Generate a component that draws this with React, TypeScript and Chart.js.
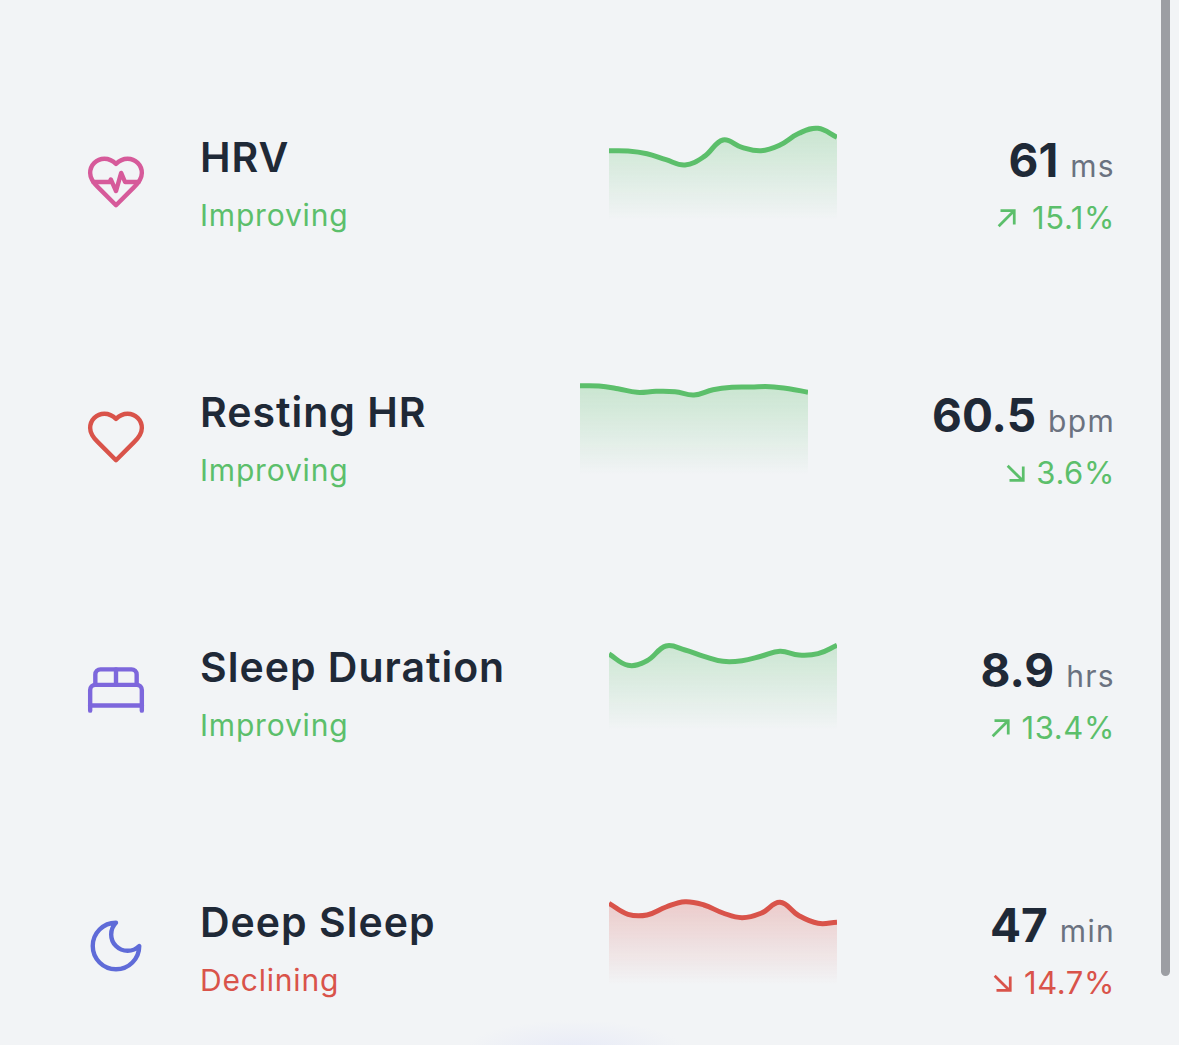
import { useEffect, useRef } from "react";
import { Chart, registerables } from "chart.js";

Chart.register(...registerables);

const hrvValues = [69.3, 69, 66.3, 60.3, 55, 63.3, 80, 72.7, 69.3, 75, 86.7, 91.7, 82.7];
const restingValues = [89.3, 89, 86.3, 82.7, 83.7, 83.3, 80, 85.3, 87.7, 88, 88.3, 86.3, 82.7];
const sleepValues = [76, 64.7, 69.3, 84, 80, 73.7, 68.7, 69.3, 73.7, 78.7, 75, 76.3, 84.7];
const deepValues = [81.7, 70.7, 70, 78, 83.3, 80, 72, 67.3, 71.7, 82.7, 69.3, 61.7, 62.7];

const GREEN = "#5cbf6b";
const RED = "#d9534a";

function Sparkline({ values, color, left, top }: { values: number[]; color: string; left: number; top: number }) {
  const canvasRef = useRef<HTMLCanvasElement | null>(null);

  useEffect(() => {
    if (!canvasRef.current) return;
    const chart = new Chart(canvasRef.current, {
      type: "line",
      data: {
        labels: values.map((_, i) => String(i)),
        datasets: [
          {
            data: values,
            borderColor: color,
            borderWidth: 5,
            pointRadius: 0,
            tension: 0.4,
            clip: 0,
            fill: "start",
            backgroundColor: (ctx: any) => {
              const area = ctx.chart.chartArea;
              if (!area) return "transparent";
              const g = ctx.chart.ctx.createLinearGradient(0, area.top, 0, area.bottom);
              g.addColorStop(0, color + "4d");
              g.addColorStop(1, color + "00");
              return g;
            },
          },
        ],
      },
      options: {
        responsive: false,
        animation: false,
        layout: { padding: 0 },
        plugins: { legend: { display: false }, tooltip: { enabled: false } },
        scales: {
          x: { display: false, offset: false },
          y: { display: false, min: 0, max: 100 },
        },
      },
    });
    return () => chart.destroy();
  }, []);

  return <canvas ref={canvasRef} width={228} height={100} style={{ position: "absolute", left, top, width: 228, height: 100 }} />;
}

function Icon({ cy, color, paths }: { cy: number; color: string; paths: string[] }) {
  return (
    <svg
      viewBox="0 0 24 24"
      style={{ position: "absolute", left: 85, top: cy - 31, width: 62, height: 62 }}
      fill="none"
      stroke={color}
      strokeWidth={1.7}
      strokeLinecap="round"
      strokeLinejoin="round"
    >
      {paths.map((d) => (
        <path key={d} d={d} />
      ))}
    </svg>
  );
}

function Arrow({ up, color, right, top }: { up: boolean; color: string; right: number; top: number }) {
  return (
    <svg
      viewBox="0 0 24 24"
      style={{ position: "absolute", left: right - 22, top, width: 22, height: 22 }}
      fill="none"
      stroke={color}
      strokeWidth={3}
    >
      {up ? <path d="M4 21 20 5M6 4h15v15" /> : <path d="M4 4l16 16M6 20h15V5" />}
    </svg>
  );
}

const HEART = "M19 14c1.49-1.46 3-3.21 3-5.5A5.5 5.5 0 0 0 16.5 3c-1.76 0-3 .5-4.5 2-1.5-1.5-2.74-2-4.5-2A5.5 5.5 0 0 0 2 8.5c0 2.3 1.5 4.05 3 5.5l7 7Z";

const rows = [
  { name: "HRV", status: "Improving", value: "61", unit: "ms", pct: "15.1%", up: true, tone: GREEN, values: hrvValues, left: 609, chartTop: 120, nameTop: 132, arrowRight: 1017, iconCy: 182, iconColor: "#d65a9a", icon: [HEART, "M3.22 12H9.5l.5-1 2 4.5 2-7 1.5 3.5h5.27"] },
  { name: "Resting HR", status: "Improving", value: "60.5", unit: "bpm", pct: "3.6%", up: false, tone: GREEN, values: restingValues, left: 580, chartTop: 375, nameTop: 387, arrowRight: 1026, iconCy: 437, iconColor: "#d9534a", icon: [HEART] },
  { name: "Sleep Duration", status: "Improving", value: "8.9", unit: "hrs", pct: "13.4%", up: true, tone: GREEN, values: sleepValues, left: 609, chartTop: 630, nameTop: 642, arrowRight: 1011, iconCy: 690, iconColor: "#7d67dc", icon: ["M2 20v-8a2 2 0 0 1 2-2h16a2 2 0 0 1 2 2v8", "M4 10V6a2 2 0 0 1 2-2h12a2 2 0 0 1 2 2v4", "M12 4v6", "M2 18h20"] },
  { name: "Deep Sleep", status: "Declining", value: "47", unit: "min", pct: "14.7%", up: false, tone: RED, values: deepValues, left: 609, chartTop: 885, nameTop: 897, arrowRight: 1013, iconCy: 946, iconColor: "#5f6bd8", icon: ["M12 3a6 6 0 0 0 9 9 9 9 0 1 1-9-9Z"] },
];

const text = (top: number, size: number, weight: number, color: string): React.CSSProperties => ({
  position: "absolute",
  top,
  fontSize: size,
  fontWeight: weight,
  color,
  lineHeight: "50px",
  whiteSpace: "nowrap",
});

export default function App() {
  return (
    <div
      style={{
        position: "absolute",
        left: 0,
        top: 0,
        width: 1179,
        height: 1045,
        overflow: "hidden",
        fontFamily: "Inter, sans-serif",
        background: "radial-gradient(ellipse 110px 30px at 575px 1050px, #e8ebf7 0%, #f2f4f6 100%)",
        backgroundColor: "#f2f4f6",
      }}
    >
      {rows.map((r) => (
        <div key={r.name}>
          <Icon cy={r.iconCy} color={r.iconColor} paths={r.icon} />
          <div style={{ ...text(r.nameTop, 41, 600, "#1f2937"), left: 200, letterSpacing: 1 }}>{r.name}</div>
          <div style={{ ...text(r.nameTop + 58, 30, 400, r.tone), left: 200, letterSpacing: 0.8 }}>{r.status}</div>
          <Sparkline values={r.values} color={r.tone} left={r.left} top={r.chartTop} />
          <div style={{ ...text(r.nameTop + 3, 46, 700, "#1f2937"), right: 1179 - 1115 }}>
            {r.value}
            <span style={{ fontSize: 30, fontWeight: 400, color: "#6b7280", marginLeft: 12, letterSpacing: 1.3 }}>{r.unit}</span>
          </div>
          <Arrow up={r.up} color={r.tone} right={r.arrowRight} top={r.nameTop + 75} />
          <div style={{ ...text(r.nameTop + 61, 31, 400, r.tone), right: 1179 - 1115, letterSpacing: 0.6 }}>{r.pct}</div>
        </div>
      ))}
      <div style={{ position: "absolute", left: 1161, top: -6, width: 9, height: 982, borderRadius: 5, background: "#9c9ea3" }} />
    </div>
  );
}
